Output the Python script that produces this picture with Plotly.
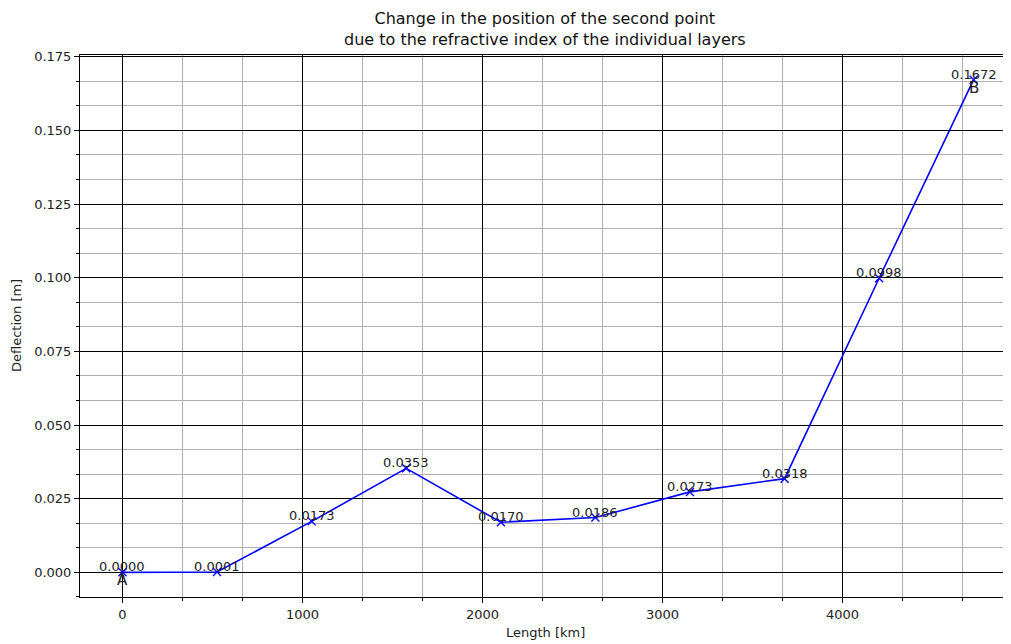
import plotly.graph_objects as go

# Distance along the profile [km] and deflection of the second point [m]
length_km = [0, 525, 1051, 1576, 2102, 2627, 3152, 3678, 4203, 4728]
deflection = [0.0000, 0.0001, 0.0173, 0.0353, 0.0170, 0.0186, 0.0273, 0.0318, 0.0998, 0.1672]
point_names = ["A", "B"]

FONT = "DejaVu Sans"
TXT = "#222"

fig = go.Figure()
fig.add_trace(go.Scatter(
    x=length_km, y=deflection,
    mode="lines+markers",
    line=dict(color="#0000ff", width=1.6),
    marker=dict(symbol="x-thin", size=8, color="#0000ff", line=dict(color="#0000ff", width=1.4)),
    showlegend=False,
))

# value labels above each point
for x, y in zip(length_km, deflection):
    fig.add_annotation(x=x, y=y, text=f"{y:.4f}", showarrow=False,
                       xanchor="center", yanchor="bottom", yshift=-4,
                       font=dict(family=FONT, size=13, color=TXT))

# start and end labels
for name, x, y in [(point_names[0], length_km[0], deflection[0]),
                   (point_names[1], length_km[-1], deflection[-1])]:
    fig.add_annotation(x=x, y=y, text=name, showarrow=False,
                       xanchor="center", yanchor="top", yshift=3,
                       font=dict(family=FONT, size=15, color=TXT))

# title and axis titles placed by hand
fig.add_annotation(xref="paper", yref="paper", x=0.5, y=1, yshift=4,
                   text="Change in the position of the second point<br>"
                        "due to the refractive index of the individual layers",
                   showarrow=False, xanchor="center", yanchor="bottom", align="center",
                   font=dict(family=FONT, size=16, color="#111"))
fig.add_annotation(xref="paper", yref="paper", x=0.5, y=0, yshift=-35,
                   text="Length [km]", showarrow=False, xanchor="center", yanchor="middle",
                   font=dict(family=FONT, size=13, color=TXT))
fig.add_annotation(xref="paper", yref="paper", x=0, y=0.5, xshift=-64,
                   text="Deflection [m]", showarrow=False, textangle=-90,
                   xanchor="center", yanchor="middle",
                   font=dict(family=FONT, size=13, color=TXT))

axis_common = dict(
    showline=True, linecolor="black", linewidth=1, mirror=True,
    showgrid=True, gridcolor="black", gridwidth=1,
    ticks="outside", ticklen=5, tickcolor="black",
    zeroline=False, automargin=False,
    tickfont=dict(family=FONT, size=13, color=TXT),
)

fig.update_xaxes(
    **axis_common,
    range=[-236, 4930], dtick=1000, tick0=0,
    minor=dict(dtick=1000 / 3, tick0=0, showgrid=True, gridcolor="#b0b0b0", gridwidth=1,
               ticks="outside", ticklen=3, tickcolor="black"),
)
fig.update_yaxes(
    **axis_common,
    range=[-0.00836, 0.17556], dtick=0.025, tick0=0, tickformat=".3f",
    minor=dict(dtick=0.025 / 3, tick0=0, showgrid=True, gridcolor="#b0b0b0", gridwidth=1,
               ticks="outside", ticklen=3, tickcolor="black"),
)

# the page body adds an 8px offset, so the figure is sized to fit inside it
fig.update_layout(
    width=1003, height=636,
    margin=dict(l=72, r=1, t=47, b=47),
    plot_bgcolor="white", paper_bgcolor="white",
    font=dict(family=FONT, color=TXT),
)

fig.write_html("out.html")
